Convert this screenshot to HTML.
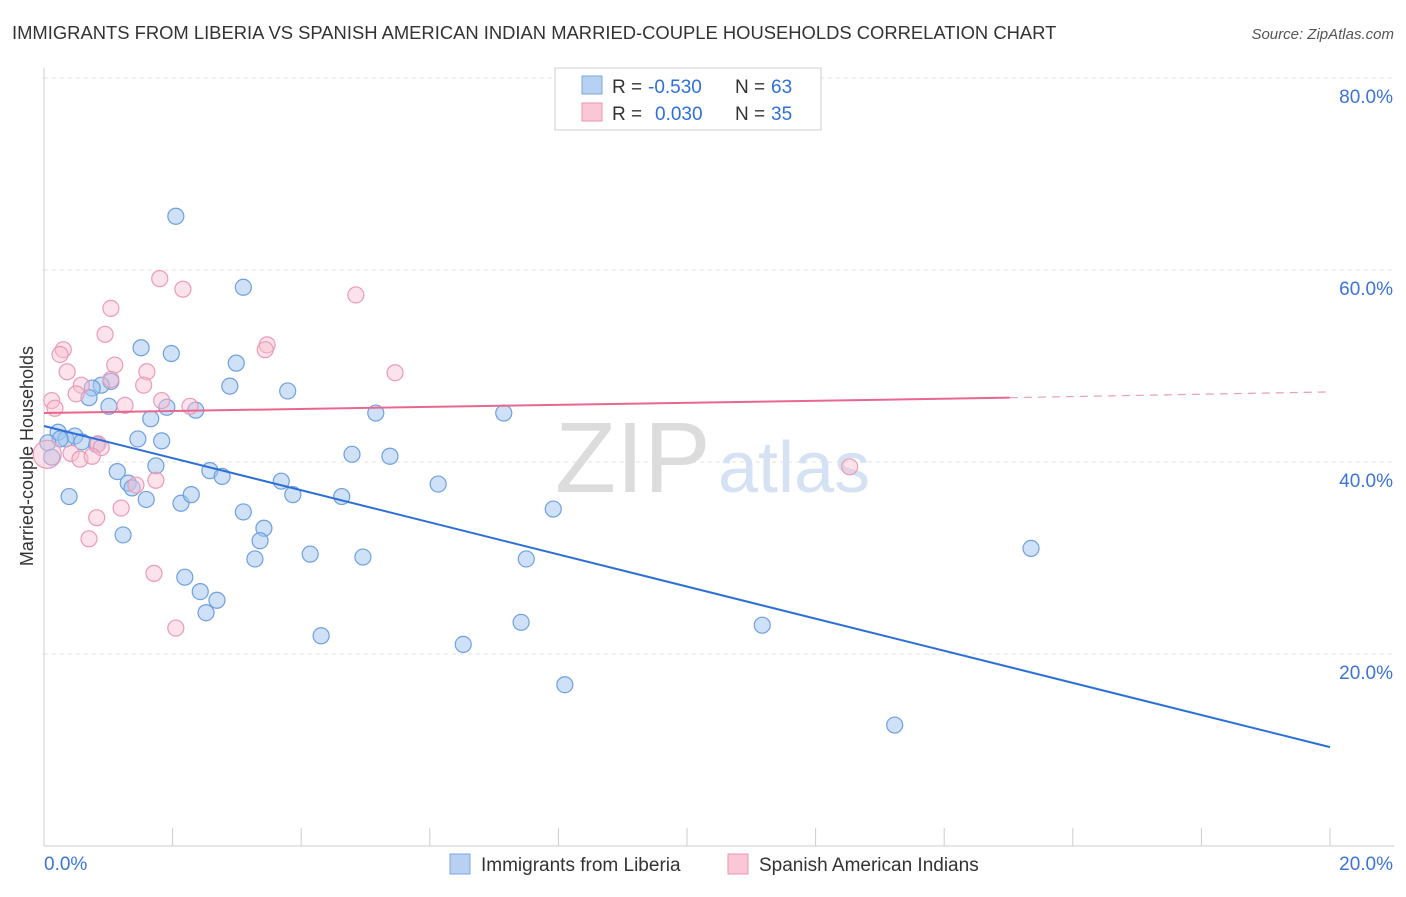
<!DOCTYPE html>
<html><head><meta charset="utf-8"><style>
body{margin:0;background:#fff;font-family:"Liberation Sans",sans-serif;}
svg text{font-family:"Liberation Sans",sans-serif;}
</style></head><body>
<svg id="chart" width="1406" height="892">
<text x="12" y="39" font-size="18.4" fill="#333">IMMIGRANTS FROM LIBERIA VS SPANISH AMERICAN INDIAN MARRIED-COUPLE HOUSEHOLDS CORRELATION CHART</text>
<text x="1394" y="39" font-size="15" fill="#555" font-style="italic" text-anchor="end">Source: ZipAtlas.com</text>
<g id="grid"></g>
<text x="555" y="492" font-size="100" fill="#dcdcdc" font-family="Liberation Serif">ZIP</text>
<text x="718" y="492" font-size="72" fill="#d4e2f4">atlas</text>
<g id="pts"></g>
<g id="lines"></g>
<text x="33" y="456" font-size="18" fill="#333" text-anchor="middle" transform="rotate(-90 33 456)">Married-couple Households</text>
<g>
<rect x="555" y="68" width="266" height="62" fill="#fff" stroke="#ccc"/>
<rect x="582" y="76" width="20" height="18" fill="#b8d0f2" stroke="#7aa6e0"/>
<rect x="582" y="103" width="20" height="18" fill="#f9c7d6" stroke="#ee93b0"/>
<text x="612" y="93" font-size="19" fill="#333">R =</text>
<text x="648" y="93" font-size="19" fill="#2f6fd8">-0.530</text>
<text x="735" y="93" font-size="19" fill="#333">N =</text>
<text x="771" y="93" font-size="19" fill="#2f6fd8">63</text>
<text x="612" y="120" font-size="19" fill="#333">R =</text>
<text x="655" y="120" font-size="19" fill="#2f6fd8">0.030</text>
<text x="735" y="120" font-size="19" fill="#333">N =</text>
<text x="771" y="120" font-size="19" fill="#2f6fd8">35</text>
</g>
<g>
<rect x="450" y="854" width="20" height="20" fill="#b8d0f2" stroke="#7aa6e0"/>
<text x="481" y="871" font-size="19" fill="#333">Immigrants from Liberia</text>
<rect x="728" y="854" width="20" height="20" fill="#f9c7d6" stroke="#ee93b0"/>
<text x="759" y="871" font-size="19" fill="#333">Spanish American Indians</text>
</g>
</svg>
<script>
const yTicks=[20,40,60,80];
const xTickLabels=["0.0%","20.0%"];
const blueX=[2.05,3.1,1.51,1.98,2.99,1.04,0.89,0.75,0.7,2.89,3.79,1.01,1.91,2.36,1.66,5.16,7.15,0.22,0.34,0.48,0.25,0.59,0.82,1.46,1.83,4.79,5.38,0.06,0.12,1.74,1.14,2.58,2.77,1.31,3.69,1.37,6.13,0.39,1.59,2.13,2.29,3.87,4.63,3.1,7.92,3.42,1.23,3.36,4.14,4.96,3.28,7.5,15.35,2.19,2.43,2.69,2.52,4.31,6.52,7.42,11.17,8.1,13.23];
const blueY=[65.6,58.2,51.9,51.3,50.3,48.4,48.0,47.7,46.7,47.9,47.4,45.8,45.7,45.4,44.5,45.1,45.1,43.1,42.4,42.7,42.4,42.1,41.8,42.4,42.2,40.8,40.6,42.0,40.5,39.6,39.0,39.1,38.5,37.8,38.0,37.3,37.7,36.4,36.1,35.7,36.6,36.6,36.4,34.8,35.1,33.1,32.4,31.8,30.4,30.1,29.9,29.9,31.0,28.0,26.5,25.6,24.3,21.9,21.0,23.3,23.0,16.8,12.6];
const pinkX=[1.8,2.16,4.85,1.04,0.95,0.3,0.25,3.47,3.44,1.1,0.36,1.6,5.46,0.58,1.04,1.55,0.12,0.17,0.5,1.83,2.27,1.26,0.05,0.84,0.89,0.42,0.56,0.75,1.74,1.43,1.2,0.82,0.7,1.71,2.05,12.53];
const pinkY=[59.1,58.0,57.4,56.0,53.3,51.7,51.2,52.2,51.7,50.1,49.4,49.4,49.3,48.0,48.6,48.0,46.4,45.6,47.1,46.4,45.8,45.9,40.8,41.9,41.5,40.9,40.3,40.6,38.1,37.6,35.2,34.2,32.0,28.4,22.7,39.5];
const blueTrend=[43.75,10.3];
const pinkTrend=[45.1,46.7,47.3];
const X=v=>44+v*64.3, Y=v=>846-v*9.6;
const NS="http://www.w3.org/2000/svg";
function mk(t,a,p){const e=document.createElementNS(NS,t);for(const k in a)e.setAttribute(k,a[k]);p.appendChild(e);return e;}
const grid=document.getElementById('grid');
for(const t of yTicks){
 const l=mk('line',{x1:44,x2:1394,y1:Y(t),y2:Y(t),stroke:'#e2e2e2','stroke-dasharray':'4,4'},grid);
 
 
 const tx=mk('text',{x:1393,y:Y(t)+25,'font-size':19,fill:'#3b74d6','text-anchor':'end'},grid);tx.textContent=t.toFixed(1)+'%';
 
 
}
mk('line',{x1:44,x2:44,y1:68,y2:846,stroke:'#ccc'},grid);
mk('line',{x1:44,x2:1394,y1:846,y2:846,stroke:'#ccc'},grid);
for(let i=0;i<=10;i++){const t=mk('line',{x1:X(i*2),x2:X(i*2),y1:828,y2:846,stroke:'#ccc'},grid);
 
 }
[[0,'start',44],[1,'end',1393]].forEach(([i,a,x])=>{const t=mk('text',{x:x,y:870,'font-size':19,fill:'#3b74d6','text-anchor':a},grid);t.textContent=xTickLabels[i];
 
 });
const pts=document.getElementById('pts');
blueX.forEach((x,i)=>{const c=mk('circle',{cx:X(x),cy:Y(blueY[i]),r:8,fill:'rgba(160,195,240,0.5)',stroke:'#6f9fdf','stroke-width':1.2},pts);
 
 });
pinkX.forEach((x,i)=>{const c=mk('circle',{cx:X(x),cy:Y(pinkY[i]),r:i==22?14:8,fill:'rgba(248,190,208,0.45)',stroke:'#ec9ab5','stroke-width':1.2},pts);
 
 });
const ln=document.getElementById('lines');
const b=mk('line',{x1:X(0),y1:Y(blueTrend[0]),x2:X(20),y2:Y(blueTrend[1]),stroke:'#2d6fd6','stroke-width':2},ln);


const p=mk('line',{x1:X(0),y1:Y(pinkTrend[0]),x2:X(15.02),y2:Y(pinkTrend[1]),stroke:'#e9678f','stroke-width':2},ln);


const pd=mk('line',{x1:X(15.02),y1:Y(pinkTrend[1]),x2:X(20),y2:Y(pinkTrend[2]),stroke:'#e9a0b8','stroke-width':1.2,'stroke-dasharray':'8,6'},ln);


</script>
</body></html>
